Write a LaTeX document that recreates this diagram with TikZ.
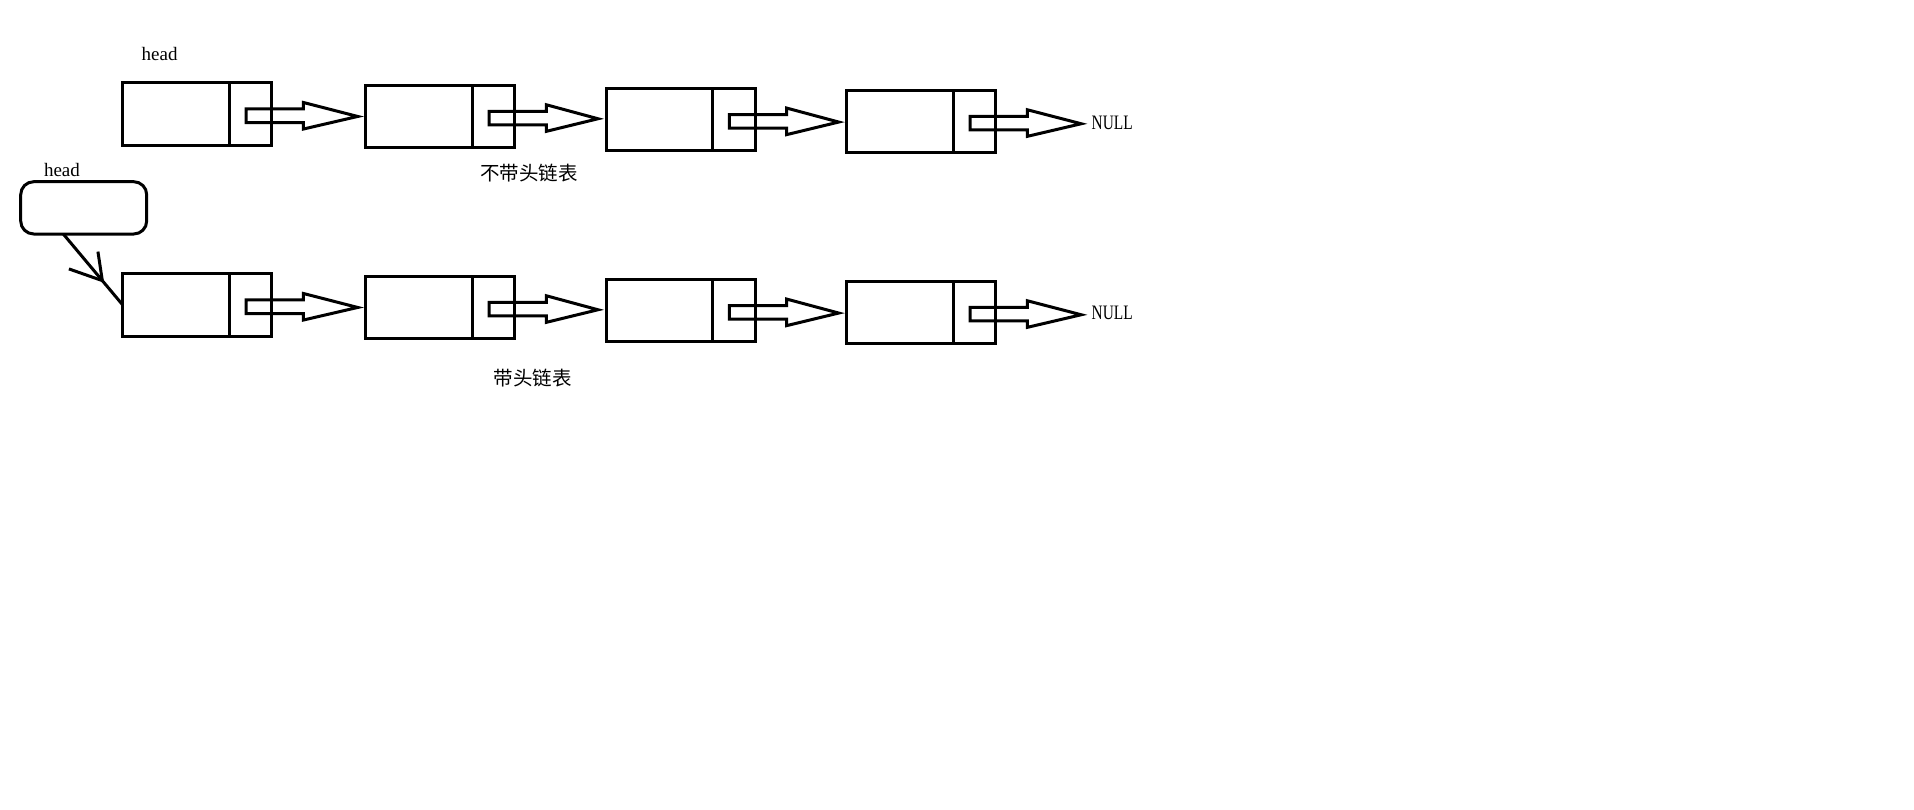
\documentclass[tikz,border=0pt]{standalone}
\usepackage{fontspec}
\setmainfont{Liberation Serif}
\newfontfamily\cjkfont{Noto Sans CJK SC}
\newfontfamily\narrowserif[FakeStretch=0.75]{Liberation Serif}
\usetikzlibrary{calc}

\tikzset{
  boxline/.style={draw=black, line width=3pt},
  listbox/.style={boxline, rectangle, minimum width=149pt, minimum height=62.5pt,
    inner sep=0pt, outer sep=0pt, anchor=north west},
  ptrbox/.style={boxline, rectangle, rounded corners=13pt, minimum width=126pt,
    minimum height=52.3pt, inner sep=0pt, outer sep=0pt, anchor=north west},
  arrowline/.style={draw=black, line width=3pt, line join=miter},
  lbl/.style={inner sep=0pt, outer sep=0pt, font=\fontsize{19}{19}\selectfont},
  nulllbl/.style={inner sep=0pt, outer sep=0pt, font=\fontsize{20.5}{20.5}\selectfont\narrowserif},
  cjklbl/.style={inner sep=0pt, outer sep=0pt, font=\fontsize{19.5}{19.5}\selectfont\cjkfont},
}

% block arrow from box #1 to node #2, #3 = gap before #2
\newcommand{\linkarrow}[3]{%
  \draw[arrowline] ($(#1.east)+(-25.7,-5)$) -- ++(57.3,0) -- ++(0,-6.5)
    -- ($(#2.west |- #1.east)+(-#3,2.5)$)
    -- ($(#1.east)+(31.6,15.1)$) -- ++(0,-6.5)
    -- ($(#1.east)+(-25.7,8.6)$) -- cycle;}
\newcommand{\boxdivider}[1]{%
  \draw[boxline] ($(#1.north west)+(106.7,0)$) -- ($(#1.south west)+(106.7,0)$);}

\begin{document}
\begin{tikzpicture}[x=1pt,y=-1pt]
\useasboundingbox[fill=white] (0,0) rectangle (1914,809);

% ---- row 1: list without head ----
\node[lbl, anchor=base west] (headA) at (141.7,60.7) {head};
\node[listbox] (a1) at (122.7,82.7) {};
\node[listbox] (a2) at (365.7,85) {};
\node[listbox] (a3) at (606,88.3) {};
\node[listbox] (a4) at (846.7,90) {};
\foreach \b in {a1,a2,a3,a4} {\boxdivider{\b}}
\node[nulllbl, anchor=base west] (nullA) at (1091.7,129.3) {NULL};
\linkarrow{a1}{a2}{8}
\linkarrow{a2}{a3}{8}
\linkarrow{a3}{a4}{8}
\linkarrow{a4}{nullA}{10.5}
\node[cjklbl] (capA) at (529,173) {不带头链表};

% ---- row 2: list with head ----
\node[lbl, anchor=base west] (headB) at (44,176.7) {head};
\node[ptrbox] (hp) at (20.7,181.7) {};
\node[listbox] (b1) at (122.7,273.7) {};
\node[listbox] (b2) at (365.7,276) {};
\node[listbox] (b3) at (606,279.3) {};
\node[listbox] (b4) at (846.7,281) {};
\foreach \b in {b1,b2,b3,b4} {\boxdivider{\b}}
\node[nulllbl, anchor=base west] (nullB) at (1091.7,319.3) {NULL};
\linkarrow{b1}{b2}{8}
\linkarrow{b2}{b3}{8}
\linkarrow{b3}{b4}{8}
\linkarrow{b4}{nullB}{10.5}
\node[cjklbl] (capB) at (532.7,378) {带头链表};

% head pointer line with open arrowhead placed along it
\coordinate (hpout) at ($(hp.south west)+(42.6,0)$);
\draw[boxline] (hpout) -- (b1.west) coordinate[pos=0.657] (apex);
\draw[boxline] (apex) -- ++(-33.4,-11.7);
\draw[boxline] (apex) -- ++(-4.4,-29);
\end{tikzpicture}
\end{document}
